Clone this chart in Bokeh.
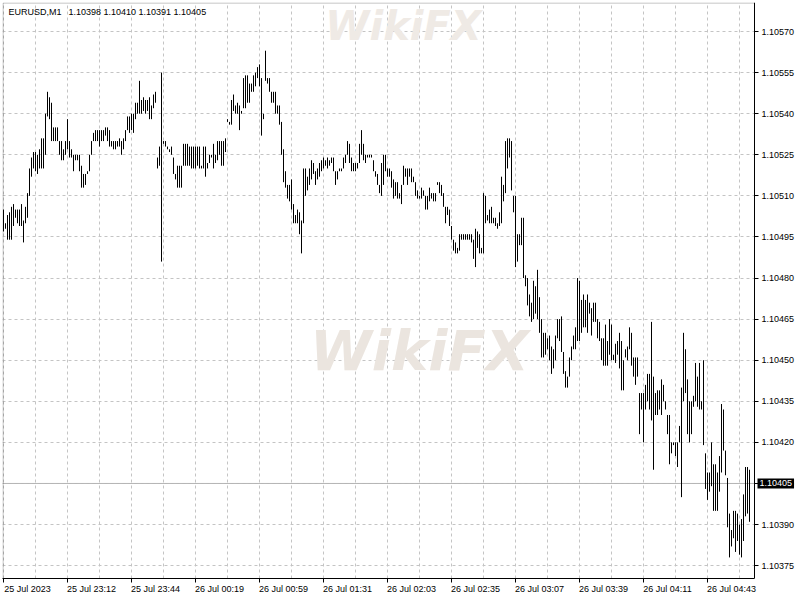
from bokeh.plotting import figure
from bokeh.models import (FixedTicker, Range1d, Span, Label, BoxAnnotation,
                          PrintfTickFormatter, ColumnDataSource)
from bokeh.embed import file_html
from bokeh.resources import INLINE

# ---------------- data ----------------
SYMBOL = "EURUSD,M1"
LAST_OHLC = [1.10398, 1.10410, 1.10391, 1.10405]   # open, high, low, close of last bar

# bar highs / lows in 1e-5 units above 1.1 (e.g. 505 -> 1.10505), one per M1 bar
HIGH_PTS = [
    505, 500, 503, 504, 506, 507, 505, 505, 505, 507, 501, 506, 511, 520, 524, 526, 526, 525, 527, 531,
    531, 540, 548, 546, 544, 535, 535, 535, 530, 530, 527, 530, 538, 530, 527, 525, 525, 525, 525, 521,
    518, 518, 519, 525, 530, 533, 534, 534, 534, 534, 534, 535, 535, 534, 530, 530, 530, 530, 531, 530,
    531, 534, 539, 539, 540, 540, 544, 544, 552, 545, 546, 545, 545, 546, 543, 547, 548, 524, 528, 555,
    530, 530, 528, 527, 528, 524, 518, 521, 521, 521, 529, 529, 529, 528, 528, 528, 528, 528, 528,
    521, 528, 528, 522, 525, 525, 529, 525, 530, 530, 530, 530, 531, 538, 537, 545, 547, 543, 544, 543,
    541, 553, 554, 554, 551, 551, 554, 555, 557, 558, 553, 540, 563, 553, 553, 548, 548, 548, 543, 543,
    537, 527, 519, 514, 514, 516, 507, 503, 505, 504, 501, 520, 520, 517, 520, 523, 522, 519, 520, 522,
    523, 524, 523, 524, 523, 524, 524, 519, 519, 520, 520, 524, 525, 530, 529, 524, 522, 522, 522, 529,
    534, 529, 525, 525, 525, 525, 523, 519, 518, 514, 522, 525, 525, 520, 520, 519, 516, 515, 515, 511,
    514, 521, 520, 520, 520, 520, 517, 515, 512, 510, 513, 512, 510, 510, 513, 511, 511, 511, 515, 515,
    514, 511, 506, 506, 505, 499, 494, 493, 491, 496, 496, 496, 496, 496, 496, 496, 494, 498, 497, 496,
    491, 511, 510, 503, 505, 506, 502, 502, 500, 504, 517, 514, 530, 531, 531, 530, 510, 510, 496, 496,
    502, 502, 481, 480, 474, 471, 479, 477, 483, 473, 465, 460, 460, 458, 459, 455, 454, 459, 465, 465,
    466, 453, 446, 444, 451, 455, 459, 462, 480, 479, 472, 474, 472, 474, 471, 469, 471, 471, 465, 464,
    458, 458, 463, 457, 465, 463, 452, 456, 457, 460, 457, 450, 454, 455, 462, 460, 451, 451, 451, 438,
    438, 438, 441, 445, 445, 464, 444, 438, 439, 439, 443, 441, 435, 430, 430, 420, 420, 420, 420, 426,
    440, 460, 454, 443, 435, 435, 437, 449, 444, 449, 435, 450, 416, 409, 409, 420, 412, 412, 409, 415,
    434, 432, 417, 407, 394, 388, 395, 395, 394, 390, 392, 401, 411, 411, 410,
]
LOW_PTS = [
    497, 498, 494, 494, 494, 499, 502, 500, 499, 499, 493, 500, 502, 510, 517, 520, 519, 518, 520, 520,
    520, 525, 539, 538, 530, 530, 530, 530, 525, 523, 523, 525, 527, 524, 524, 519, 523, 523, 519, 513,
    513, 514, 518, 519, 525, 530, 530, 530, 528, 530, 530, 532, 530, 528, 528, 527, 527, 528, 528, 525,
    527, 530, 534, 533, 534, 533, 538, 540, 540, 540, 541, 540, 541, 538, 538, 542, 544, 520, 521, 486,
    529, 528, 527, 526, 525, 518, 516, 513, 513, 513, 521, 521, 521, 521, 520, 520, 520, 521, 520,
    520, 520, 517, 520, 522, 524, 520, 522, 523, 525, 521, 521, 526, 537, 536, 536, 541, 540, 540, 534,
    540, 542, 542, 544, 544, 548, 548, 550, 553, 550, 532, 538, 552, 551, 548, 544, 544, 540, 540, 536,
    525, 515, 513, 509, 508, 505, 500, 500, 500, 496, 489, 500, 510, 512, 514, 516, 518, 514, 516, 517,
    519, 520, 521, 520, 521, 522, 519, 514, 516, 519, 519, 520, 522, 525, 522, 519, 519, 519, 520, 522,
    525, 523, 522, 524, 524, 524, 519, 517, 514, 511, 510, 514, 519, 517, 517, 513, 509, 510, 509, 509,
    507, 514, 517, 514, 517, 515, 515, 510, 509, 509, 509, 510, 505, 505, 508, 509, 508, 508, 514, 511,
    510, 506, 500, 503, 499, 494, 490, 489, 489, 490, 494, 494, 494, 494, 494, 493, 487, 484, 491, 489,
    489, 489, 500, 501, 500, 500, 500, 499, 498, 499, 500, 508, 511, 520, 524, 512, 504, 484, 486, 492,
    492, 480, 477, 470, 466, 464, 465, 467, 465, 460, 451, 451, 452, 454, 450, 445, 447, 450, 458, 457,
    453, 445, 440, 440, 444, 450, 454, 454, 457, 457, 460, 462, 462, 460, 467, 459, 464, 464, 458, 457,
    450, 448, 448, 448, 452, 450, 450, 449, 452, 447, 439, 439, 451, 450, 454, 448, 444, 441, 444, 423,
    432, 420, 432, 435, 432, 428, 410, 430, 430, 432, 430, 435, 432, 423, 412, 416, 419, 415, 411, 420,
    400, 435, 438, 423, 420, 423, 433, 435, 433, 432, 432, 419, 403, 399, 402, 404, 395, 395, 395, 402,
    409, 417, 408, 389, 378, 382, 385, 380, 384, 379, 378, 384, 393, 394, 391,
]

TIME_LABELS = ["25 Jul 2023", "25 Jul 23:12", "25 Jul 23:44", "26 Jul 00:19", "26 Jul 00:59",
               "26 Jul 01:31", "26 Jul 02:03", "26 Jul 02:35", "26 Jul 03:07", "26 Jul 03:39",
               "26 Jul 04:11", "26 Jul 04:43"]
TIME_LABEL_BARS = [0, 32, 64, 96, 128, 160, 192, 224, 256, 288, 320, 352]
PRICE_TICKS = [1.10375, 1.10390, 1.10405, 1.10420, 1.10435, 1.10450, 1.10465,
               1.10480, 1.10495, 1.10510, 1.10525, 1.10540, 1.10555, 1.10570]
WATERMARK = "WikiFX"

# ---------------- build ----------------
n = len(HIGH_PTS)
bars = list(range(n))
high = [1.1 + h / 1e5 for h in HIGH_PTS]
low = [1.1 + l / 1e5 for l in LOW_PTS]
src = ColumnDataSource(dict(x=bars, high=high, low=low))

FONT = "Liberation Sans"
FS = "9px"
SLOTS = n + 2              # bar slots across the chart window (2 px per bar)
SCALE_SLOTS = 21           # room to the right of the chart for the price scale
X0 = -0.5
X_EDGE = SLOTS + X0        # right edge of the chart window (price axis position)
Y0, Y1 = 1.103703, 1.105806
PX_Y = (Y1 - Y0) / 576     # one pixel in price units

p = figure(frame_width=2 * (SLOTS + SCALE_SLOTS), frame_height=576,
           output_backend="svg", toolbar_location=None,
           x_range=Range1d(X0, X_EDGE + SCALE_SLOTS), y_range=Range1d(Y0, Y1),
           y_axis_location="right", min_border=0, min_border_left=2, min_border_top=2)
p.background_fill_color = "white"
p.border_fill_color = "white"
p.outline_line_color = None

# grids
p.xgrid.ticker = FixedTicker(ticks=list(range(0, SLOTS, 16)))
for g in (p.xgrid, p.ygrid):
    g.grid_line_color = "#c4c4c4"
    g.grid_line_dash = "3 3"
    g.grid_line_width = 1

# bid line
p.add_layout(Span(location=LAST_OHLC[3], dimension="width", line_color="#b4b4b4",
                  line_width=1, level="underlay"))

# keep the price-scale strip clean (no grid / bid line there)
p.add_layout(BoxAnnotation(left=X_EDGE, fill_color="white", fill_alpha=1.0,
                           line_color=None, level="underlay"))

# right price axis, pinned to the right edge of the chart window
ya = p.yaxis[0]
ya.fixed_location = X_EDGE
ya.ticker = FixedTicker(ticks=PRICE_TICKS)
ya.formatter = PrintfTickFormatter(format="%.5f")
ya.axis_line_color = "black"
ya.major_tick_line_color = "black"
ya.major_tick_out = 4
ya.major_tick_in = 0
ya.minor_tick_line_color = None
ya.major_label_standoff = 3
ya.major_label_text_font = FONT
ya.major_label_text_font_size = FS
ya.major_label_text_color = "black"

# bottom time axis: tick marks (minor ticks) at the bars, labels starting there
OFF = 12
xa = p.xaxis[0]
xa.bounds = (X0, X_EDGE)
xa.ticker = FixedTicker(ticks=[b + OFF for b in TIME_LABEL_BARS], minor_ticks=TIME_LABEL_BARS)
xa.major_label_overrides = {b + OFF: t for b, t in zip(TIME_LABEL_BARS, TIME_LABELS)}
xa.axis_line_color = "black"
xa.major_tick_line_color = None
xa.major_tick_out = 0
xa.major_tick_in = 0
xa.minor_tick_line_color = "black"
xa.minor_tick_out = 4
xa.minor_tick_in = 0
xa.major_label_standoff = 1
xa.major_label_text_font = FONT
xa.major_label_text_font_size = FS
xa.major_label_text_color = "black"

# watermark
p.add_layout(Label(x=208, y=1.104536, text=WATERMARK, text_font="DejaVu Sans",
                   text_font_style="bold italic", text_font_size="56px",
                   text_color="#ebe5df", text_align="center", text_baseline="middle",
                   level="underlay"))
p.add_layout(Label(x=200, y=Y1, text=WATERMARK, text_font="DejaVu Sans",
                   text_font_style="bold italic", text_font_size="40px",
                   text_color="#efeae5", text_align="center", text_baseline="top",
                   level="underlay"))

# chart window border (left / top; right and bottom coincide with the axes)
p.add_layout(BoxAnnotation(left=X0 + 0.25, right=X_EDGE, top=Y1 - 0.5 * PX_Y, bottom=Y0,
                           fill_color=None, line_color="black", line_width=1))

# bars
p.segment(x0="x", y0="low", x1="x", y1="high", source=src, line_color="black", line_width=1)

# header
p.add_layout(Label(x=2.5, y=1.105773, text=SYMBOL, text_font=FONT, text_font_size=FS,
                   text_color="black", text_baseline="middle"))
p.add_layout(Label(x=32.5, y=1.105773, text=" ".join(f"{v:.5f}" for v in LAST_OHLC),
                   text_font=FONT, text_font_size=FS, text_color="black",
                   text_baseline="middle"))

# current price marker on the price axis
p.add_layout(Label(x=X_EDGE + 1.5, y=LAST_OHLC[3], text=f"{LAST_OHLC[3]:.5f}",
                   text_font=FONT, text_font_size=FS, text_color="white",
                   background_fill_color="black", text_baseline="middle", padding=2,
                   level="overlay"))

open("out.html", "w").write(file_html(p, INLINE))
